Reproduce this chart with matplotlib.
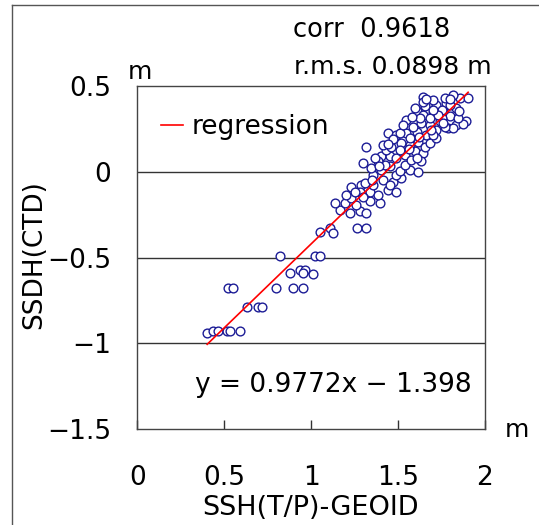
import numpy as np
import matplotlib
matplotlib.use("Agg")
import matplotlib.pyplot as plt
from matplotlib.lines import Line2D

plt.rcParams['font.family'] = ['DejaVu Sans']
plt.rcParams['axes.unicode_minus'] = True

# SSH(T/P)-GEOID vs SSDH(CTD)
ssh_geoid = [
    0.402, 0.437, 0.466, 0.514, 0.533, 0.590,
    0.523, 0.552, 0.629, 0.695, 0.720,
    0.797, 0.893, 0.954, 0.877, 0.935, 0.964, 0.954, 1.012,
    0.820, 1.021, 1.050,
    1.050, 1.108, 1.127, 1.261, 1.318,
    1.164, 1.222, 1.279, 1.318,
    1.136, 1.193, 1.232, 1.260, 1.337, 1.394, 1.203,
    1.232, 1.289, 1.337, 1.385, 1.442, 1.490, 1.279, 1.356,
    1.308, 1.356, 1.414, 1.471, 1.519, 1.452, 1.490,
    1.298, 1.346, 1.404, 1.452, 1.510, 1.567, 1.615, 1.538, 1.423,
    1.404, 1.452, 1.385, 1.490, 1.538, 1.596, 1.644, 1.433, 1.366, 1.577, 1.634,
    1.318, 1.414, 1.461, 1.519, 1.567, 1.615, 1.654, 1.510, 1.682,
    1.442, 1.490, 1.548, 1.606, 1.663, 1.721, 1.567, 1.721, 1.510, 1.702,
    1.586, 1.634, 1.682, 1.740, 1.788, 1.836, 1.893, 1.874, 1.817, 1.769, 1.548,
    1.606, 1.644, 1.702, 1.759, 1.798, 1.845, 1.625, 1.682, 1.750,
    1.596, 1.654, 1.721, 1.778, 1.836, 1.750, 1.798,
    1.644, 1.702, 1.769, 1.855, 1.903, 1.644, 1.817,
    1.47, 1.53, 1.58, 1.62, 1.69, 1.73, 1.66, 1.70, 1.39,
    1.35, 1.30, 1.25, 1.44, 1.56, 1.61, 1.85, 1.80, 1.76,
]
ssdh_ctd = [
    -0.941, -0.925, -0.925, -0.925, -0.925, -0.925,
    -0.679, -0.679, -0.791, -0.791, -0.791,
    -0.679, -0.679, -0.679, -0.591, -0.572, -0.572, -0.591, -0.595,
    -0.491, -0.491, -0.491,
    -0.349, -0.326, -0.359, -0.330, -0.330,
    -0.223, -0.242, -0.232, -0.242,
    -0.184, -0.184, -0.155, -0.193, -0.174, -0.184, -0.135,
    -0.087, -0.077, -0.116, -0.135, -0.106, -0.116, -0.116, -0.077,
    -0.067, -0.019, -0.048, -0.058, -0.038, -0.077, -0.019,
    0.049, 0.020, 0.010, 0.030, 0.001, 0.010, -0.003, 0.039, 0.039,
    0.088, 0.088, 0.059, 0.078, 0.098, 0.117, 0.107, 0.127, 0.078, 0.068, 0.059,
    0.146, 0.156, 0.146, 0.165, 0.156, 0.175, 0.146, 0.127, 0.165,
    0.224, 0.214, 0.224, 0.233, 0.214, 0.195, 0.195, 0.243, 0.224, 0.214,
    0.262, 0.282, 0.272, 0.292, 0.253, 0.272, 0.292, 0.276, 0.252, 0.262, 0.301,
    0.350, 0.330, 0.340, 0.350, 0.321, 0.311, 0.311, 0.311, 0.311,
    0.369, 0.379, 0.389, 0.398, 0.369, 0.359, 0.389,
    0.437, 0.418, 0.427, 0.427, 0.427, 0.408, 0.447,
    0.19, 0.27, 0.32, 0.20, 0.24, 0.33, 0.42, 0.36, 0.03,
    -0.05, -0.15, -0.12, 0.16, 0.13, 0.08, 0.35, 0.42, 0.28,
]

slope = 0.9772
intercept = -1.398
corr = 0.9618
rms = 0.0898

x_ticks = [0, 0.5, 1, 1.5, 2]
y_ticks = [0.5, 0, -0.5, -1, -1.5]

W, H = 539, 525
fig = plt.figure(figsize=(W / 100, H / 100), dpi=100)
ax = fig.add_axes([137.3 / W, 1 - 429.3 / H, (485 - 137.3) / W, (429.3 - 85.7) / H])

for yv in [0, -0.5, -1]:
    ax.axhline(yv, color='#333333', lw=1.0, zorder=1)

ax.plot(ssh_geoid, ssdh_ctd, 'o', ms=6.3, mfc='white', mec='#1c1c96', mew=1.0,
        zorder=2)

xr = np.array([min(ssh_geoid), max(ssh_geoid)])
ax.plot(xr, slope * xr + intercept, color='#ff0000', lw=1.2, zorder=3,
        label='regression')

ax.set_xlim(0, 2)
ax.set_ylim(-1.5, 0.5)
ax.set_xticks(x_ticks)
ax.set_xticklabels(['0', '0.5', '1', '1.5', '2'])
ax.set_yticks(y_ticks)
ax.set_yticklabels(['0.5', '0', '\u22120.5', '\u22121', '\u22121.5'])
ax.tick_params(axis='x', direction='in', length=6.5, width=1.0, pad=26,
               labelsize=19, color='#333333')
ax.tick_params(axis='y', length=0, pad=19, labelsize=19)
for s in ax.spines.values():
    s.set_color('#444444')
    s.set_linewidth(1.0)

ax.legend(loc='center left', bbox_to_anchor=(161 / W, 1 - 127 / H),
          bbox_transform=fig.transFigure, frameon=False, fontsize=19,
          handlelength=0.85, handletextpad=0.3, borderpad=0, borderaxespad=0)

ax.text(195 / W, 1 - 392 / H, 'y = %.4fx \u2212 %.3f' % (slope, -intercept),
        transform=fig.transFigure, fontsize=19, ha='left', va='baseline')

fig.text(293 / W, 1 - 30 / H, 'corr  %.4f' % corr, fontsize=18.5,
         ha='left', va='center')
fig.text(294 / W, 1 - 67 / H, 'r.m.s. %.4f m' % rms, fontsize=18,
         ha='left', va='center')
fig.text(140 / W, 1 - 72 / H, 'm', fontsize=18, ha='center', va='center')
fig.text(517 / W, 1 - 430 / H, 'm', fontsize=18, ha='center', va='center')

fig.text(311 / W, 1 - 508 / H, 'SSH(T/P)-GEOID', fontsize=19.5,
         ha='center', va='center')
fig.text(34 / W, 1 - 255 / H, 'SSDH(CTD)', fontsize=19, rotation=90,
         ha='center', va='center')

# outer frame (left and top edges)
fig.add_artist(Line2D([12 / W, 12 / W], [0, 1 - 5 / H], color='#555555',
                      lw=1.0, transform=fig.transFigure))
fig.add_artist(Line2D([12 / W, 1], [1 - 5 / H, 1 - 5 / H], color='#555555',
                      lw=1.0, transform=fig.transFigure))

fig.savefig('out.png', dpi=100, facecolor='white')
